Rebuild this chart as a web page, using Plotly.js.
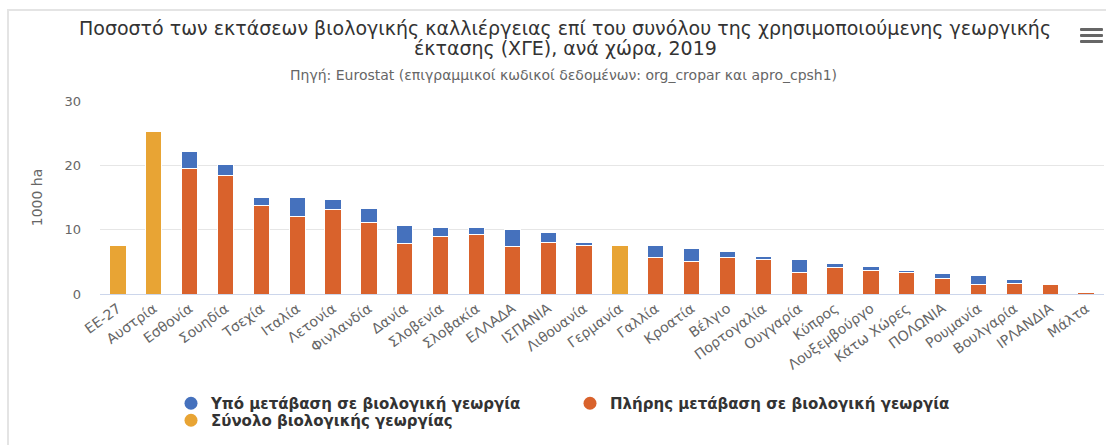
<!DOCTYPE html>
<html lang="el">
<head>
<meta charset="utf-8">
<title>Βιολογική καλλιέργεια ανά χώρα, 2019</title>
<script src="https://cdn.plot.ly/plotly-3.0.1.min.js"></script>
<style>
  html, body { margin: 0; padding: 0; background: #fff; overflow: hidden; }
  #frame {
    position: absolute; left: 7px; top: 9px; right: -20px; bottom: -20px;
    border: 2px solid #e4e4e4;
  }
  #graph { position: absolute; left: 0; top: 0; width: 1106px; height: 445px; }
  #menu-icon { position: absolute; left: 1080px; top: 28px; width: 23px; }
  #menu-icon span { display: block; height: 3px; background: #666; margin-bottom: 3px; border-radius: 1px; }
</style>
</head>
<body>
<div id="frame"></div>
<div id="graph"></div>
<div id="menu-icon"><span></span><span></span><span></span></div>
<script>
const countries = [
  'EE-27', 'Αυστρία', 'Εσθονία', 'Σουηδία', 'Τσεχία', 'Ιταλία', 'Λετονία',
  'Φινλανδία', 'Δανία', 'Σλοβενία', 'Σλοβακία', 'ΕΛΛΑΔΑ', 'ΙΣΠΑΝΙΑ', 'Λιθουανία',
  'Γερμανία', 'Γαλλία', 'Κροατία', 'Βέλγιο', 'Πορτογαλία', 'Ουγγαρία', 'Κύπρος',
  'Λουξεμβούργο', 'Κάτω Χώρες', 'ΠΟΛΩΝΙΑ', 'Ρουμανία', 'Βουλγαρία', 'ΙΡΛΑΝΔΙΑ', 'Μάλτα'
];

// πλήρης μετάβαση (πορτοκαλί, κάτω μέρος της στοίβας)
const fullyConverted = [
  null, null, 19.5, 18.4, 13.7, 12.1, 13.1,
  11.1, 7.8, 9.0, 9.2, 7.4, 8.0, 7.5,
  null, 5.6, 5.0, 5.6, 5.3, 3.3, 4.1,
  3.7, 3.3, 2.4, 1.4, 1.7, 1.4, 0.2
];

// υπό μετάβαση (μπλε, πάνω μέρος)
const underConversion = [
  null, null, 2.7, 1.8, 1.3, 2.9, 1.6,
  2.2, 2.9, 1.3, 1.1, 2.7, 1.5, 0.5,
  null, 1.9, 2.0, 1.0, 0.5, 2.1, 0.7,
  0.5, 0.3, 0.8, 1.4, 0.5, null, null
];

// σύνολο (κίτρινο) μόνο για ΕΕ-27, Αυστρία, Γερμανία
const organicTotal = [
  7.6, 25.3, null, null, null, null, null,
  null, null, null, null, null, null, null,
  7.5, null, null, null, null, null, null,
  null, null, null, null, null, null, null
];

const yTicks = [0, 10, 20, 30];

const COLORS = {
  conversion: '#4571bd',
  full: '#d9622c',
  total: '#e8a434'
};

const TEXTS = {
  title1: 'Ποσοστό των εκτάσεων βιολογικής καλλιέργειας επί του συνόλου της χρησιμοποιούμενης γεωργικής',
  title2: 'έκτασης (ΧΓΕ), ανά χώρα, 2019',
  source: 'Πηγή: Eurostat (επιγραμμικοί κωδικοί δεδομένων: org_cropar και apro_cpsh1)',
  conversion: 'Υπό μετάβαση σε βιολογική γεωργία',
  full: 'Πλήρης μετάβαση σε βιολογική γεωργία',
  total: 'Σύνολο βιολογικής γεωργίας'
};

const FONT = '"DejaVu Sans", "Open Sans", sans-serif';

// περιοχή σχεδίασης σε px
const PLOT = { left: 100, right: 1104, top: 101, bottom: 294 };

function paperX(px) {
  return (px - PLOT.left) / (PLOT.right - PLOT.left);
}

function paperY(px) {
  return (PLOT.bottom - px) / (PLOT.bottom - PLOT.top);
}

function barTrace(values, color) {
  return {
    type: 'bar',
    x: countries,
    y: values,
    showlegend: false,
    hoverinfo: 'x+y',
    marker: { color, line: { color: '#ffffff', width: 1 } }
  };
}

// κύκλοι στο υπόμνημα, όπως στο πρωτότυπο
function legendTrace(name, color, legendId) {
  return {
    type: 'scatter',
    mode: 'markers',
    x: [null],
    y: [null],
    name,
    legend: legendId,
    marker: { color, size: 13, symbol: 'circle' }
  };
}

function buildTraces() {
  return [
    barTrace(fullyConverted, COLORS.full),
    barTrace(underConversion, COLORS.conversion),
    barTrace(organicTotal, COLORS.total),
    legendTrace(TEXTS.conversion, COLORS.conversion, 'legend'),
    legendTrace(TEXTS.full, COLORS.full, 'legend'),
    legendTrace(TEXTS.total, COLORS.total, 'legend2')
  ];
}

function textNote(text, xPx, yPx, size, color) {
  return {
    text,
    xref: 'paper',
    yref: 'paper',
    x: paperX(xPx),
    y: paperY(yPx),
    xanchor: 'center',
    yanchor: 'middle',
    showarrow: false,
    font: { family: FONT, size, color }
  };
}

function legendBox(yTopPx) {
  return {
    orientation: 'h',
    xref: 'container',
    yref: 'container',
    x: 171 / 1106,
    y: 1 - yTopPx / 445,
    xanchor: 'left',
    yanchor: 'top',
    traceorder: 'normal',
    entrywidth: 354,
    entrywidthmode: 'pixels',
    itemclick: false,
    itemdoubleclick: false,
    font: { family: FONT, size: 15, color: '#333333', weight: 'bold' }
  };
}

function getLayout() {
  return {
    width: 1106,
    height: 445,
    paper_bgcolor: 'rgba(0,0,0,0)',
    plot_bgcolor: 'rgba(0,0,0,0)',
    font: { family: FONT, color: '#666666', size: 12 },
    margin: { t: PLOT.top, r: 1106 - PLOT.right, b: 445 - PLOT.bottom, l: PLOT.left },
    barmode: 'stack',
    bargap: 0.545,
    annotations: [
      textNote(TEXTS.title1, 565, 28, 19, '#333333'),
      textNote(TEXTS.title2, 565, 48, 19, '#333333'),
      textNote(TEXTS.source, 563, 75, 14, '#666666')
    ],
    xaxis: {
      type: 'category',
      tickangle: -36,
      tickfont: { family: FONT, size: 14, color: '#666666' },
      showgrid: false,
      showline: true,
      linecolor: '#ccd6eb',
      linewidth: 1,
      ticks: '',
      automargin: false,
      fixedrange: true
    },
    yaxis: {
      range: [0, 30],
      tickvals: yTicks,
      tickfont: { family: FONT, size: 13, color: '#666666' },
      ticklabelstandoff: 18,
      gridcolor: '#e6e6e6',
      gridwidth: 1,
      zeroline: false,
      showline: false,
      automargin: false,
      title: { text: '1000 ha', standoff: 18, font: { family: FONT, size: 14, color: '#666666' } },
      fixedrange: true
    },
    legend: legendBox(387),
    legend2: legendBox(404)
  };
}

function renderChart() {
  const config = { displayModeBar: false, responsive: false };
  Plotly.newPlot('graph', buildTraces(), getLayout(), config);
}

document.addEventListener('DOMContentLoaded', renderChart);
</script>
</body>
</html>
